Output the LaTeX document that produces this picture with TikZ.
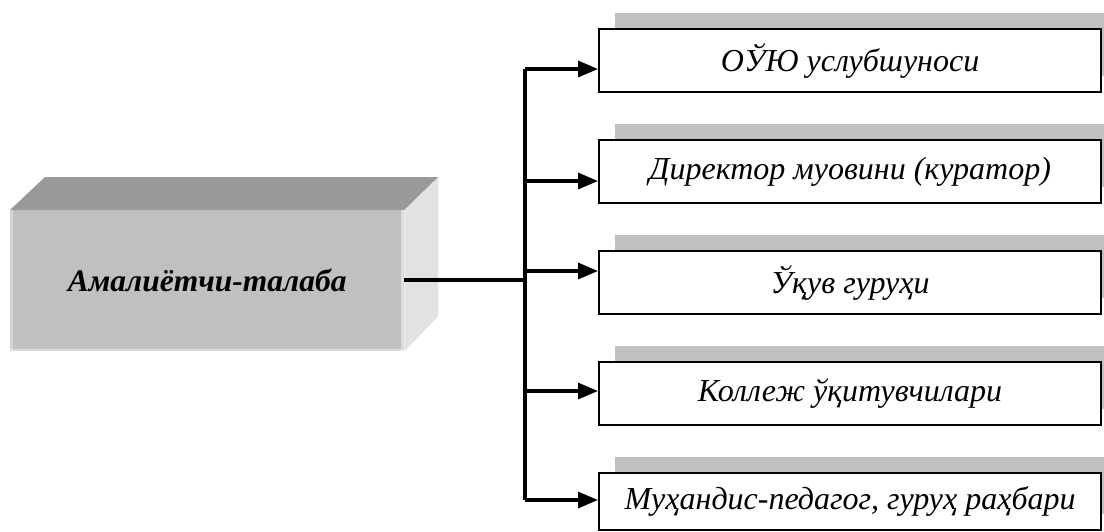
\documentclass[tikz,border=0pt]{standalone}
\usepackage{fontspec}
\setmainfont{Liberation Serif}
\usetikzlibrary{arrows.meta,shadows,calc}
\definecolor{frontgray}{HTML}{C0C0C0}
\definecolor{topgray}{HTML}{999999}
\definecolor{sidegray}{HTML}{E2E2E2}
\definecolor{shadowgray}{HTML}{C0C0C0}
\begin{document}
\begin{tikzpicture}[x=1pt,y=-1pt,
  rolebox/.style={draw=black,line width=2.2pt,fill=white,minimum width=502pt,minimum height=63pt,
    anchor=north west,inner sep=0pt,font=\fontsize{32}{38}\selectfont\itshape,
    drop shadow={shadow xshift=16pt,shadow yshift=16pt,fill=shadowgray,opacity=1}},
  conn/.style={line width=3.2pt,line cap=butt},
  arr/.style={conn,-{Triangle[length=20pt,width=16pt]}}]
\useasboundingbox (0,0) rectangle (1104,531);
% main 3D box
\node[fill=frontgray,minimum width=394pt,minimum height=141pt,anchor=north west,inner sep=0pt,
  font=\fontsize{31.5}{38}\selectfont\bfseries\itshape] (main) at (10,210) {Амалиётчи-талаба};
\fill[topgray] (main.north west) -- ++(35,-33) -- ($(main.north east)+(34,-33)$) -- (main.north east) -- cycle;
\fill[sidegray] (main.north east) -- ++(34,-33) -- ++(0,139) -- (main.south east) -- cycle;
\draw[white,opacity=0.35,line width=3pt] ([xshift=1.5pt]main.north west) -- ([xshift=1.5pt]main.south west);
\draw[white,opacity=0.45,line width=3pt] ([xshift=-1.5pt]main.north east) -- ([xshift=-1.5pt]main.south east);
\draw[white,opacity=0.4,line width=2pt] ([yshift=1pt]main.south west) -- ([yshift=1pt]main.south east);
% role boxes
\node[rolebox] (b1) at (598,28) {ОЎЮ услубшуноси};
\node[rolebox] (b2) at (598,139) {Директор муовини (куратор)};
\node[rolebox] (b3) at (598,250) {Ўқув гуруҳи};
\node[rolebox] (b4) at (598,361) {Коллеж ўқитувчилари};
\node[rolebox,minimum height=57pt] (b5) at (598,472) {Муҳандис-педагог, гуруҳ раҳбари};
% connectors
\coordinate (jm) at (525,280);
\coordinate (j1) at (525,69);
\coordinate (j2) at (525,181);
\coordinate (j3) at (525,271);
\coordinate (j4) at (525,391);
\coordinate (j5) at (525,500);
\draw[conn] (main.east |- jm) -- (jm);
\draw[conn] (j1) -- (j5);
\draw[arr] (j1) -- (b1.west |- j1);
\draw[arr] (j2) -- (b2.west |- j2);
\draw[arr] (j3) -- (b3.west |- j3);
\draw[arr] (j4) -- (b4.west |- j4);
\draw[arr] (j5) -- (b5.west |- j5);
\end{tikzpicture}
\end{document}
